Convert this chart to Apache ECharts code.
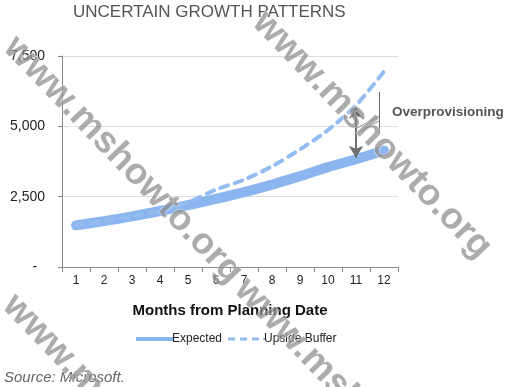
<!DOCTYPE html>
<html>
<head>
<meta charset="utf-8">
<script src="https://cdn.jsdelivr.net/npm/echarts@6/dist/echarts.min.js"></script>
<style>
html,body{margin:0;padding:0;background:#fff;}
#main{width:507px;height:387px;}
</style>
</head>
<body>
<div id="main"></div>
<script>
var months = ['1','2','3','4','5','6','7','8','9','10','11','12'];
var expected = [1480, 1630, 1800, 1990, 2200, 2420, 2660, 2930, 3230, 3550, 3830, 4140];
var upsideBuffer = [1480, 1630, 1800, 1990, 2300, 2750, 3100, 3580, 4180, 4870, 5750, 6950];
var yTicks = [0, 2500, 5000, 7500];
var overprovisionTop = 5700;
var overprovisionBottom = 3880;

var chart = echarts.init(document.getElementById('main'), null, {renderer: 'canvas'});
var wmStyle = {
  text: 'www.mshowto.org',
  fontFamily: 'Liberation Sans, Arial, sans-serif',
  fontWeight: 'bold',
  fontSize: 37,
  fill: 'rgba(140,140,140,0.72)',
  stroke: 'rgba(255,255,255,0.6)',
  lineWidth: 1,
  align: 'center',
  verticalAlign: 'middle'
};
var rot = -Math.PI * 0.25 - 0.02;
var option = {
  animation: false,
  backgroundColor: '#fff',
  grid: {left: 62, right: 109, top: 56, bottom: 120, containLabel: false},
  legend: {
    bottom: 37, left: 131,
    itemWidth: 37, itemHeight: 8, itemGap: 6,
    textStyle: {fontFamily: 'Liberation Sans, Arial, sans-serif', fontSize: 12, color: '#222', padding: [0,0,0,-6]},
    data: [
      {name: 'Expected', icon: 'path://M0,3 L37,3 L37,7 L0,7 Z', itemStyle: {color: '#8ab5ee'}},
      {name: 'Upside Buffer', icon: 'path://M0,3.5 L7,3.5 L7,6.5 L0,6.5 Z M12,3.5 L19,3.5 L19,6.5 L12,6.5 Z M24,3.5 L31,3.5 L31,6.5 L24,6.5 Z M35,4 L37,4 L37,6 L35,6 Z', itemStyle: {color: '#93bcf0'}}
    ]
  },
  xAxis: {
    type: 'category',
    data: months,
    boundaryGap: true,
    name: 'Months from Planning Date',
    nameLocation: 'middle',
    nameGap: 36,
    nameTextStyle: {fontFamily: 'Liberation Sans, Arial, sans-serif', fontWeight: 'bold', fontSize: 15, color: '#111'},
    axisLine: {lineStyle: {color: '#888', width: 1}},
    axisTick: {show: true, length: 5, lineStyle: {color: '#888'}},
    axisLabel: {fontFamily: 'Liberation Sans, Arial, sans-serif', fontSize: 12, color: '#222', margin: 8}
  },
  yAxis: {
    type: 'value',
    min: 0, max: 7500, interval: 2500,
    axisLine: {show: true, lineStyle: {color: '#888', width: 1}},
    axisTick: {show: true, length: 4, lineStyle: {color: '#888'}},
    splitLine: {lineStyle: {color: '#dcdcdc', width: 1}},
    axisLabel: {
      fontFamily: 'Liberation Sans, Arial, sans-serif', fontSize: 14, color: '#222', margin: 17,
      formatter: function (v) { return v === 0 ? '-  ' : v.toLocaleString('en-US'); }
    }
  },
  series: [
    {
      name: 'Expected', type: 'line', data: expected, symbol: 'none', smooth: 0.3,
      lineStyle: {color: '#8ab5ee', width: 10, cap: 'round', join: 'round'},
      itemStyle: {color: '#8ab5ee'},
      z: 2
    },
    {
      name: 'Upside Buffer', type: 'line', data: upsideBuffer, symbol: 'none', smooth: 0.3,
      lineStyle: {color: '#93bcf0', width: 4, type: [8, 7], cap: 'round'},
      itemStyle: {color: '#93bcf0'},
      z: 3,
      markLine: {
        silent: true,
        symbol: ['arrow', 'arrow'],
        symbolSize: [11, 12],
        label: {show: false},
        lineStyle: {color: '#6f6f6f', width: 2, type: 'solid'},
        data: [[{coord: ['11', overprovisionTop]}, {coord: ['11', overprovisionBottom]}]]
      }
    }
  ],
  graphic: [
    {type: 'text', left: 73, top: 4, style: {text: 'UNCERTAIN GROWTH PATTERNS', fontFamily: 'Liberation Sans, Arial, sans-serif', fontSize: 17, fill: '#555'}, z: 10},
    {type: 'line', shape: {x1: 379.5, y1: 92, x2: 379.5, y2: 134}, style: {stroke: '#666', lineWidth: 1}, z: 10},
    {type: 'line', shape: {x1: 379, y1: 116, x2: 357, y2: 128}, style: {stroke: '#888', lineWidth: 1}, z: 10},
    {type: 'line', shape: {x1: 379, y1: 121, x2: 361, y2: 131}, style: {stroke: '#888', lineWidth: 1}, z: 10},
    {type: 'text', left: 392, top: 105, style: {text: 'Overprovisioning', fontFamily: 'Liberation Sans, Arial, sans-serif', fontWeight: 'bold', fontSize: 13.5, fill: '#555'}, z: 10},
    {type: 'text', left: 4, top: 370, style: {text: 'Source: Microsoft.', fontFamily: 'Liberation Sans, Arial, sans-serif', fontStyle: 'italic', fontSize: 15, fill: '#666'}, z: 10},
    {type: 'text', x: 123, y: 160, rotation: rot, style: wmStyle, silent: true, z: 20},
    {type: 'text', x: 372, y: 135, rotation: rot, style: wmStyle, silent: true, z: 20},
    {type: 'text', x: 122, y: 418, rotation: rot, style: wmStyle, silent: true, z: 20},
    {type: 'text', x: 354, y: 402, rotation: rot, style: wmStyle, silent: true, z: 20}
  ]
};
chart.setOption(option);
</script>
</body>
</html>
